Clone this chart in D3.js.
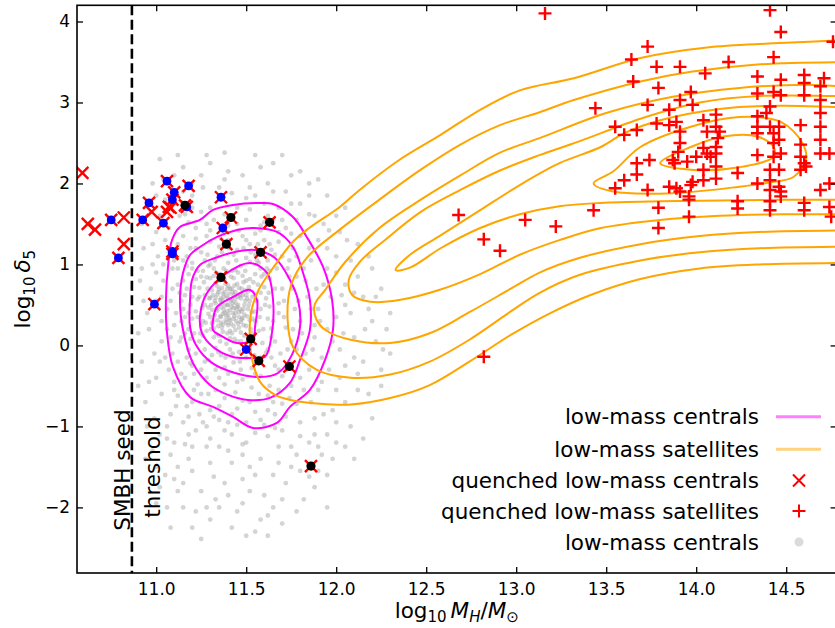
<!DOCTYPE html>
<html><head><meta charset="utf-8">
<script src="https://cdn.jsdelivr.net/npm/d3@7"></script>
<style>body{margin:0;background:#fff} svg{display:block} text{font-family:"DejaVu Sans",sans-serif;fill:#000}</style>
</head><body><svg id="c" width="835" height="628"></svg>
<script>
// ---------------- data ----------------
const xTicks = [11.0, 11.5, 12.0, 12.5, 13.0, 13.5, 14.0, 14.5];
const yTicks = [-2, -1, 0, 1, 2, 3, 4];
const seedThreshold = 10.865;

const greyCentrals = [
[11.30,0.35],[11.33,0.52],[11.36,0.28],[11.39,0.61],[11.41,0.44],[11.44,0.19],[11.46,0.71],[11.49,0.38],[11.52,0.55],[11.35,0.12],[11.31,0.68],[11.38,0.81],[11.43,0.33],[11.47,0.05],[11.50,0.24],[11.34,0.43],[11.37,0.17],[11.40,0.74],[11.42,0.57],[11.45,0.48],[11.48,0.62],[11.32,0.21],[11.29,0.47],[11.39,0.36],[11.44,0.66],[11.36,0.58],[11.41,0.09],[11.53,0.41],[11.47,0.29],[11.33,0.77],[11.38,0.49],[11.43,0.83],[11.30,0.59],[11.51,0.67],[11.40,0.25],[11.35,0.69],[11.46,0.41],[11.42,0.15],[11.37,0.39],[11.49,0.12],[11.31,0.27],[11.44,0.53],[11.39,0.02],[11.34,0.63],[11.48,0.86],[11.41,0.31],[11.36,0.47],[11.45,0.76],[11.52,0.31],[11.29,0.39],
[11.22,0.42],[11.24,0.71],[11.21,0.15],[11.26,0.92],[11.27,-0.05],[11.58,0.45],[11.60,0.72],[11.57,0.18],[11.62,0.33],[11.55,0.88],[11.32,0.95],[11.40,1.02],[11.47,0.98],[11.36,-0.12],[11.43,-0.21],[11.50,-0.15],[11.28,0.84],[11.25,0.25],[11.59,0.03],[11.61,0.58],[11.23,0.57],[11.54,0.78],[11.33,-0.03],[11.46,-0.08],[11.56,-0.22],[11.30,1.00],[11.52,1.03],[11.64,0.21],[11.20,0.33],[11.27,0.62],[11.63,0.83],[11.38,-0.27],[11.42,0.92],[11.24,0.05],[11.58,0.95],[11.35,0.88],[11.29,-0.18],[11.61,-0.09],[11.55,0.62],[11.22,0.82],
[11.14,0.30],[11.16,0.62],[11.13,0.05],[11.18,0.88],[11.19,-0.22],[11.68,0.40],[11.70,0.70],[11.66,0.05],[11.72,0.22],[11.67,0.95],[11.25,1.15],[11.35,1.22],[11.45,1.18],[11.55,1.12],[11.62,1.05],[11.28,-0.40],[11.38,-0.48],[11.48,-0.42],[11.58,-0.38],[11.66,-0.25],[11.17,1.10],[11.21,-0.35],[11.71,0.55],[11.15,0.45],[11.69,-0.10],[11.40,1.30],[11.52,1.25],[11.30,1.28],[11.33,-0.55],[11.44,-0.58],[11.53,-0.52],[11.64,1.18],[11.74,0.85],[11.12,0.75],[11.20,1.02],[11.23,-0.48],[11.73,-0.05],[11.60,1.30],[11.18,-0.05],[11.48,1.35],
[11.06,0.20],[11.08,0.55],[11.05,-0.15],[11.09,0.95],[11.10,-0.45],[11.80,0.30],[11.84,0.60],[11.78,-0.05],[11.88,0.10],[11.82,0.95],[11.15,1.35],[11.22,1.45],[11.32,1.55],[11.45,1.50],[11.58,1.48],[11.68,1.40],[11.76,1.20],[11.20,-0.70],[11.30,-0.80],[11.42,-0.85],[11.55,-0.82],[11.65,-0.70],[11.75,-0.50],[11.85,-0.30],[11.12,-0.62],[11.90,0.45],[11.07,1.15],[11.92,-0.15],[11.38,1.62],[11.62,1.60],[11.50,-0.95],[11.35,-0.92],[11.70,1.55],[11.80,1.35],[11.25,1.65],[11.93,0.75],[11.86,1.05],[11.08,-0.85],[11.15,-0.95],[11.72,-0.88],[11.60,-0.98],[11.78,-0.72],[11.04,0.80],[11.90,-0.55],[11.28,-1.00],
[10.95,0.40],[10.92,-0.20],[10.98,1.00],[10.94,-0.70],[11.00,1.40],[11.02,-1.10],[11.05,1.80],[11.10,2.10],[11.20,2.00],[11.28,2.35],[11.35,1.95],[11.48,2.10],[11.55,1.85],[11.62,2.00],[11.72,1.90],[11.80,1.75],[11.88,1.60],[11.95,1.20],[12.00,0.90],[12.05,0.50],[12.10,0.10],[12.02,-0.40],[11.98,-0.80],[12.15,-0.20],[12.20,0.30],[12.28,0.20],[12.12,0.85],[12.06,1.30],[11.95,-1.10],[11.85,-1.20],[11.78,-1.35],[11.68,-1.25],[11.58,-1.40],[11.50,-1.20],[11.40,-1.30],[11.30,-1.45],[11.20,-1.25],[11.12,-1.50],[11.25,-1.80],[11.38,-1.70],[11.48,-1.65],[11.60,-1.85],[11.72,-1.70],[11.82,-1.90],[11.45,-2.05],[11.30,-2.15],[11.55,-2.30],[11.70,-2.20],[11.15,-2.00],[11.05,-1.60],[11.00,-1.95],[11.08,-2.25],[11.25,-2.39],[11.62,-2.10],[11.90,-1.55],[12.08,-1.00],[12.18,-0.60],[11.03,0.05],[10.97,0.70],[10.93,1.20],[11.02,2.30],[11.38,2.38],[11.65,2.25],[11.90,2.05],[12.00,1.60],[12.25,0.70],[12.10,-1.40],[11.22,-1.05],[11.42,-1.10],[11.62,-1.12],[11.10,-1.20],[11.32,-1.62],[11.52,-1.50],[11.88,-0.90],[11.95,0.20],[12.02,-0.05],
[11.31,0.44],[11.34,0.31],[11.37,0.55],[11.40,0.38],[11.43,0.62],[11.46,0.22],[11.49,0.50],[11.32,0.10],[11.35,0.80],[11.38,0.66],[11.41,0.18],[11.44,0.40],[11.47,0.58],[11.50,0.80],[11.53,0.15],[11.36,0.35],[11.39,0.92],[11.42,0.70],[11.45,0.05],[11.48,0.34],[11.51,0.45],[11.33,0.59],[11.30,0.83],[11.27,0.50],[11.26,0.30],[11.55,0.30],[11.56,0.55],[11.40,0.50],[11.43,0.46],[11.37,0.26],[11.34,0.73],[11.47,0.16],[11.50,0.62],[11.28,0.18],[11.52,0.82],[11.44,0.93],[11.32,0.86],[11.58,0.65],[11.24,0.60],[11.41,-0.05],
[11.19,0.50],[11.21,0.72],[11.23,0.35],[11.18,0.20],[11.25,0.85],[11.27,1.05],[11.34,1.10],[11.43,1.12],[11.50,1.08],[11.57,1.02],[11.63,0.92],[11.66,0.70],[11.68,0.52],[11.65,0.30],[11.64,0.10],[11.62,-0.05],[11.58,-0.15],[11.53,-0.28],[11.47,-0.30],[11.40,-0.35],[11.33,-0.30],[11.27,-0.20],[11.22,-0.10],[11.19,0.08],[11.16,0.15],[11.14,0.55],[11.15,0.80],[11.17,0.98],[11.22,1.20],[11.28,1.35],[11.37,1.40],[11.46,1.42],[11.55,1.38],[11.63,1.25],[11.70,1.10],[11.73,0.95],[11.76,0.70],[11.77,0.45],[11.76,0.20],[11.74,-0.20],[11.70,-0.38],[11.63,-0.50],[11.57,-0.60],[11.48,-0.68],[11.38,-0.65],[11.29,-0.60],[11.21,-0.55],[11.16,-0.40],[11.12,-0.20],[11.11,0.40],
[11.08,0.10],[11.09,0.70],[11.10,1.05],[11.12,1.25],[11.18,1.52],[11.28,1.50],[11.42,1.60],[11.52,1.68],[11.60,1.52],[11.72,1.45],[11.78,1.10],[11.83,0.80],[11.86,0.45],[11.88,0.25],[11.83,-0.10],[11.80,-0.40],[11.74,-0.65],[11.66,-0.85],[11.58,-0.92],[11.45,-0.98],[11.32,-0.88],[11.24,-0.85],[11.17,-0.75],[11.10,-0.55],[11.07,-0.30],[11.03,0.30],[11.06,0.45],[11.00,0.90],[11.05,1.30],[11.13,1.60],[11.20,1.70],[11.35,1.80],[11.50,1.82],[11.68,1.70],[11.78,1.55],[11.90,1.30],[11.95,0.95],[11.97,0.60],[12.00,0.35],[11.98,0.05],[11.96,-0.30],[11.92,-0.45],[11.86,-0.70],[11.80,-0.95],[11.70,-1.05],[11.55,-1.08],[11.38,-1.05],[11.18,-1.10],[11.06,-1.00],[11.00,-0.40],
[10.90,0.15],[10.96,-0.45],[10.99,-0.90],[10.91,0.80],[10.97,1.65],[11.04,2.05],[11.15,2.20],[11.25,2.10],[11.40,2.15],[11.58,2.20],[11.75,2.10],[11.85,1.85],[12.02,1.40],[12.08,1.05],[12.15,0.60],[12.22,0.05],[12.30,-0.10],[12.12,-0.35],[12.05,-0.70],[12.00,-1.20],[11.92,-1.35],[11.85,-1.62],[11.75,-1.50],[11.65,-1.60],[11.52,-1.80],[11.42,-1.45],[11.35,-1.25],[11.18,-1.40],[11.08,-1.35],[11.02,-1.75],[11.12,-1.80],[11.22,-2.05],[11.35,-2.00],[11.50,-2.35],[11.62,-2.35],[11.78,-2.05],[11.88,-1.75],[11.95,-1.60],[12.20,-0.90],[12.25,-0.30],[10.98,-1.30],[11.28,-1.25],[11.48,-1.35],[11.68,-1.45],[11.88,-1.10],[12.10,-0.15],[12.18,0.45],[12.05,0.75],[11.93,1.50],[11.70,2.35],
[11.305,0.50],[11.325,0.38],[11.345,0.24],[11.355,0.56],[11.365,0.71],[11.375,0.44],[11.385,0.31],[11.395,0.50],[11.405,0.64],[11.415,0.27],[11.425,0.52],[11.435,0.74],[11.445,0.30],[11.455,0.60],[11.465,0.45],[11.475,0.70],[11.485,0.25],[11.495,0.55],[11.505,0.36],[11.515,0.72],[11.525,0.20],[11.535,0.60],[11.545,0.42],[11.315,0.62],[11.335,0.90],[11.355,0.05],[11.375,0.95],[11.395,0.15],[11.415,0.85],[11.435,0.08],[11.455,0.90],[11.475,0.42],[11.495,0.92],[11.515,0.05],[11.285,0.70],[11.275,0.28],[11.265,0.78],[11.255,0.46],[11.245,0.15],[11.565,0.75],[11.575,0.35],[11.585,0.85],[11.595,0.20],[11.605,0.50],[11.615,0.95],[11.625,0.65],[11.345,-0.08],[11.385,-0.15],[11.425,-0.10],[11.465,-0.20],[11.505,-0.05],[11.545,-0.12],[11.325,1.05],[11.365,1.15],[11.405,1.20],[11.445,1.05],[11.485,1.20],[11.525,1.15],[11.565,1.25],[11.285,1.12],
[11.14,0.10],[11.13,0.65],[11.16,0.35],[11.17,0.70],[11.19,1.20],[11.15,1.05],[11.20,-0.25],[11.17,-0.15],[11.14,-0.35],[11.25,-0.60],[11.35,-0.75],[11.45,-0.78],[11.52,-0.70],[11.62,-0.62],[11.68,-0.55],[11.72,-0.30],[11.75,0.05],[11.79,0.55],[11.81,0.15],[11.78,0.85],[11.74,1.05],[11.68,1.28],[11.58,1.42],[11.50,1.55],[11.40,1.48],[11.30,1.42],[11.22,1.32],[11.12,0.95],[11.10,0.25],[11.09,-0.10],[11.11,-0.75],[11.18,-0.88],[11.26,-0.95],[11.40,-0.95],[11.62,-0.80],[11.70,-0.72],[11.82,-0.55],[11.87,-0.05],[11.91,0.30],[11.89,0.70],[11.85,1.20],[11.75,1.38],[11.65,1.55],[11.45,1.70],[11.30,1.70],[11.16,1.62],[11.07,1.45],[11.04,1.00],[11.03,0.60],[11.02,-0.20],[11.03,-0.60],[11.06,-1.15],[11.16,-1.22],[11.30,-1.15],[11.48,-1.22],[11.66,-1.02],[11.80,-1.12],[11.93,-0.85],[12.00,-0.55],[12.04,0.15],[12.03,0.62],[12.00,1.10],[11.96,1.42],[11.85,1.62],[11.60,1.75],[11.42,1.88],[11.20,1.85],[11.10,1.75],[10.98,1.25],[10.96,0.20],[10.99,-0.10],[11.00,0.55],[11.01,1.10],[10.93,0.55],[11.26,1.95],[11.52,1.95],[11.75,1.75],[12.08,0.40],[12.12,-0.55],[12.05,-0.25],
[10.92,1.50],[10.95,-1.00],[10.90,-0.50],[11.00,-1.50],[11.10,-1.65],[11.20,-1.55],[11.40,-1.85],[11.55,-1.60],[11.70,-1.90],[11.80,-1.55],[11.98,-1.40],[12.15,-1.15],[12.25,-0.50],[12.30,0.40],[12.20,0.95],[12.12,1.25],[12.05,1.70],[11.95,1.85],[11.80,2.15],[11.55,2.35],[11.30,2.25],[11.12,2.35],[10.98,2.00],[10.94,-1.40],[11.06,-2.00],[11.20,-2.25],[11.42,-2.25],[11.65,-2.00],[11.48,-1.95],[11.33,-1.90],[11.75,-1.25],[11.90,-1.25],[12.05,-1.25],[12.22,0.60],[12.26,-0.05],[12.18,1.10],[11.02,1.60],[11.15,1.90],[11.65,1.90],[11.85,2.00],[12.10,0.65],[12.16,0.20],[11.95,-2.00],[11.58,-2.15],[11.28,-2.00],[11.15,-1.70],[10.92,0.95],[11.38,2.05],[11.00,1.85],[12.00,-0.95],
[11.315,0.30],[11.335,0.45],[11.355,0.36],[11.375,0.60],[11.395,0.42],[11.415,0.55],[11.435,0.36],[11.455,0.50],[11.475,0.32],[11.495,0.68],[11.325,0.55],[11.345,0.66],[11.365,0.22],[11.385,0.76],[11.405,0.33],[11.425,0.66],[11.445,0.45],[11.465,0.62],[11.485,0.45],[11.505,0.58],[11.295,0.58],[11.305,0.20],[11.335,0.14],[11.365,0.84],[11.395,0.70],[11.425,0.40],[11.455,0.27],[11.485,0.78],[11.515,0.50],[11.535,0.33],[11.36,0.52],[11.38,0.40],[11.40,0.58],[11.42,0.48],[11.44,0.58],[11.39,0.28],[11.41,0.70],[11.43,0.24],[11.37,0.64],[11.46,0.35],
[11.20,0.60],[11.23,0.92],[11.26,0.12],[11.29,0.98],[11.31,-0.12],[11.56,1.05],[11.60,0.88],[11.63,0.48],[11.64,-0.15],[11.55,-0.35],[11.45,-0.45],[11.35,-0.40],[11.25,-0.30],[11.18,0.40],[11.20,0.95],[11.36,1.32],[11.50,1.30],[11.66,1.12],[11.71,0.35],[11.68,-0.30]
];

const centralContours = [
 [[11.054,0.562],[11.066,0.981],[11.088,1.302],[11.132,1.463],[11.243,1.549],[11.316,1.673],[11.427,1.735],[11.577,1.759],[11.649,1.747],[11.76,1.586],[11.838,1.333],[11.927,0.969],[11.977,0.562],[11.982,0.191],[11.938,-0.179],[11.854,-0.549],[11.743,-0.759],[11.671,-0.957],[11.538,-1.019],[11.427,-0.883],[11.316,-0.759],[11.188,-0.636],[11.093,-0.265],[11.06,0.154]],
 [[11.132,0.562],[11.149,0.895],[11.188,1.117],[11.243,1.216],[11.338,1.34],[11.449,1.426],[11.538,1.451],[11.671,1.401],[11.76,1.216],[11.816,0.895],[11.854,0.562],[11.854,0.191],[11.799,-0.179],[11.743,-0.463],[11.632,-0.648],[11.51,-0.673],[11.399,-0.611],[11.299,-0.488],[11.204,-0.216],[11.149,0.191]],
 [[11.188,0.562],[11.199,0.809],[11.243,0.994],[11.327,1.080],[11.438,1.154],[11.549,1.179],[11.66,1.080],[11.743,0.809],[11.788,0.562],[11.799,0.228],[11.754,-0.117],[11.677,-0.340],[11.577,-0.389],[11.438,-0.340],[11.31,-0.216],[11.221,0.006],[11.188,0.228]],
 [[11.243,0.352],[11.282,0.648],[11.393,0.895],[11.521,1.019],[11.616,0.895],[11.649,0.562],[11.643,0.154],[11.604,-0.142],[11.521,-0.154],[11.427,-0.142],[11.316,-0.019],[11.254,0.154]],
 [[11.316,0.315],[11.338,0.475],[11.427,0.599],[11.521,0.685],[11.56,0.562],[11.549,0.228],[11.538,0.068],[11.449,0.031],[11.371,0.105],[11.316,0.191]]
];

const satelliteContours = [
 [[15.2,3.80],[14.83,3.77],[14.43,3.73],[14.06,3.68],[13.69,3.55],[13.32,3.30],[13.02,3.15],[12.80,2.91],[12.58,2.60],[12.35,2.29],[12.13,1.92],[12.02,1.71],[11.85,1.45],[11.76,1.28],[11.65,0.96],[11.57,0.69],[11.53,0.44],[11.52,0.07],[11.54,-0.24],[11.58,-0.46],[11.66,-0.61],[11.74,-0.67],[11.91,-0.72],[12.08,-0.73],[12.30,-0.65],[12.52,-0.49],[12.74,-0.20],[12.97,0.13],[13.19,0.40],[13.41,0.62],[13.69,0.82],[14.02,0.95],[14.35,1.00],[14.83,1.02],[15.2,1.02]],
 [[15.2,3.50],[14.83,3.50],[14.34,3.47],[13.97,3.38],[13.69,3.26],[13.32,3.03],[13.13,2.88],[12.91,2.72],[12.69,2.48],[12.47,2.17],[12.24,1.80],[12.02,1.43],[11.84,1.09],[11.75,0.75],[11.73,0.32],[11.76,-0.02],[11.89,-0.30],[12.08,-0.40],[12.30,-0.36],[12.52,-0.20],[12.74,0.07],[12.97,0.42],[13.13,0.65],[13.35,0.87],[13.69,1.05],[14.02,1.15],[14.35,1.20],[14.83,1.22],[15.2,1.22]],
 [[15.2,3.22],[14.83,3.20],[14.61,3.22],[14.24,3.18],[13.87,3.07],[13.50,2.87],[13.13,2.56],[12.91,2.38],[12.69,2.10],[12.47,1.80],[12.24,1.45],[12.05,1.03],[11.94,0.69],[11.88,0.50],[11.89,0.32],[11.94,0.19],[12.08,0.07],[12.30,0.03],[12.52,0.15],[12.74,0.41],[12.97,0.70],[13.13,0.90],[13.35,1.08],[13.69,1.25],[14.02,1.35],[14.35,1.40],[14.83,1.42],[15.2,1.42]],
 [[15.2,3.08],[14.83,3.08],[14.35,3.08],[14.02,3.00],[13.69,2.80],[13.35,2.52],[13.13,2.35],[12.91,2.16],[12.69,1.92],[12.47,1.65],[12.27,1.30],[12.13,1.03],[12.07,0.81],[12.09,0.62],[12.19,0.54],[12.35,0.56],[12.58,0.69],[12.80,0.88],[13.02,1.12],[13.24,1.30],[13.47,1.45],[13.80,1.55],[14.13,1.60],[14.47,1.62],[14.83,1.62],[15.2,1.62]],
 [[15.2,2.94],[14.83,2.94],[14.47,2.96],[14.13,2.92],[13.80,2.78],[13.60,2.62],[13.47,2.45],[13.24,2.25],[13.02,1.98],[12.80,1.67],[12.58,1.36],[12.41,1.12],[12.33,0.93],[12.41,0.96],[12.58,1.20],[12.80,1.45],[13.02,1.62],[13.24,1.72],[13.47,1.76],[13.80,1.78],[14.13,1.79],[14.47,1.80],[14.83,1.80],[15.2,1.80]],
 [[13.43,2.00],[13.54,2.15],[13.69,2.45],[13.97,2.70],[14.24,2.82],[14.47,2.76],[14.59,2.50],[14.61,2.29],[14.54,2.08],[14.43,2.02],[14.24,1.96],[13.87,1.88],[13.54,1.90]],
 [[13.80,2.25],[13.97,2.45],[14.15,2.58],[14.34,2.58],[14.43,2.45],[14.43,2.33],[14.24,2.20],[13.97,2.17]]
];

// quenched low-mass centrals; group: "a" = blue dot, "b" = black dot
const quenchedCentrals = [
[10.59,2.13,""],[10.62,1.50,""],[10.66,1.43,""],[10.75,1.55,"a"],[10.82,1.58,""],[10.82,1.25,""],[10.79,1.08,"a"],[10.925,1.55,"a"],[10.96,1.76,"a"],[10.975,1.65,""],[11.04,1.51,"a"],[11.06,2.03,"a"],[11.07,1.71,""],[11.06,1.65,""],[11.10,1.89,"a"],[11.09,1.80,"a"],[11.08,1.70,""],[11.09,1.16,"a"],[11.09,1.13,"a"],[11.18,1.97,"a"],[11.17,1.71,"a"],[11.16,1.73,"b"],[11.36,1.83,"a"],[11.415,1.58,"b"],[11.37,1.45,"a"],[11.63,1.52,"b"],[11.39,1.25,"b"],[11.58,1.15,"b"],[11.36,0.84,"b"],[10.99,0.51,"a"],[11.50,-0.05,"a"],[11.525,0.08,"b"],[11.57,-0.19,"b"],[11.74,-0.26,"b"],[11.86,-1.49,"b"]
];

const quenchedSatellites = [
[13.16,4.10],[14.41,4.14],[14.47,3.87],[13.73,3.69],[13.64,3.53],[13.78,3.44],[13.91,3.44],[14.18,3.50],[14.43,3.56],[14.05,3.36],[13.65,3.26],[14.34,3.32],[14.47,3.28],[14.60,3.34],[14.71,3.30],[13.79,3.18],[13.97,3.13],[14.34,3.11],[14.43,3.13],[14.47,3.09],[14.60,3.09],[14.60,3.24],[14.69,3.20],[14.69,3.03],[13.44,2.93],[13.73,2.97],[13.91,3.03],[13.98,2.97],[13.85,2.91],[14.11,2.85],[14.41,2.95],[14.39,2.87],[14.69,2.87],[13.55,2.70],[13.67,2.66],[13.60,2.60],[13.78,2.74],[13.85,2.72],[13.89,2.76],[13.91,2.64],[14.04,2.78],[14.06,2.64],[14.11,2.70],[14.13,2.64],[14.12,2.56],[14.34,2.83],[14.34,2.70],[14.34,2.62],[14.41,2.70],[14.43,2.62],[14.46,2.70],[14.46,2.54],[14.58,2.72],[14.69,2.70],[14.69,2.54],[14.69,2.37],[13.91,2.50],[13.90,2.39],[14.04,2.44],[14.06,2.37],[14.08,2.33],[14.11,2.37],[14.11,2.45],[14.00,2.33],[13.95,2.27],[13.88,2.25],[13.87,2.29],[14.34,2.35],[14.43,2.50],[14.47,2.37],[14.43,2.33],[14.58,2.48],[14.58,2.33],[14.60,2.25],[14.61,2.21],[14.74,2.37],[13.67,2.25],[13.74,2.29],[13.67,2.11],[13.60,2.04],[13.55,1.94],[13.73,1.92],[13.85,1.96],[13.89,1.94],[13.91,1.90],[13.97,1.98],[13.98,2.02],[13.96,1.84],[14.04,2.17],[14.04,2.04],[14.11,2.21],[14.11,2.06],[14.23,2.13],[14.34,2.00],[14.41,2.17],[14.41,2.04],[14.41,1.92],[14.46,2.17],[14.46,1.96],[14.47,1.84],[14.58,2.17],[14.69,1.92],[14.74,2.00],[14.23,1.78],[14.23,1.69],[14.41,1.78],[14.41,1.67],[14.47,1.90],[14.60,1.76],[14.60,1.67],[14.74,1.71],[14.75,1.59],[13.79,1.70],[13.96,1.80],[13.96,1.59],[13.43,1.67],[13.22,1.47],[13.79,1.45],[13.05,1.55],[12.68,1.61],[12.82,1.31],[12.91,1.17],[12.82,-0.14],[14.76,3.75]
];

const legendLabels = ["low-mass centrals","low-mass satellites","quenched low-mass centrals","quenched low-mass satellites","low-mass centrals"];

// ---------------- drawing ----------------
const svg = d3.select("#c");
const L = 77, R = 836.6, T = 5.3, B = 573;
const x = d3.scaleLinear().domain([10.56, 14.78]).range([L, R]);
const y = d3.scaleLinear().domain([-2.81, 4.2]).range([B, T]);

svg.append("defs").append("clipPath").attr("id","clip")
  .append("rect").attr("x",L).attr("y",T).attr("width",R-L).attr("height",B-T);
const g = svg.append("g").attr("clip-path","url(#clip)");

g.selectAll("circle.grey").data(greyCentrals).join("circle").attr("class","grey")
  .attr("cx",d=>x(d[0])).attr("cy",d=>y(d[1])).attr("r",2.4)
  .attr("fill","#999").attr("fill-opacity",0.42);

const closed = d3.line().x(d=>x(d[0])).y(d=>y(d[1])).curve(d3.curveCatmullRomClosed.alpha(0.5));
g.selectAll("path.cen").data(centralContours).join("path").attr("class","cen")
  .attr("d",closed).attr("fill","none").attr("stroke","#ff00ff").attr("stroke-width",2);
g.selectAll("path.sat").data(satelliteContours).join("path").attr("class","sat")
  .attr("d",closed).attr("fill","none").attr("stroke","#ffa500").attr("stroke-width",2);

// seed threshold line
g.append("line").attr("x1",x(seedThreshold)).attr("x2",x(seedThreshold)).attr("y1",T).attr("y2",B)
  .attr("stroke","#000").attr("stroke-width",2.6).attr("stroke-dasharray","10,4.5");

function cross(sel, s){ return sel.append("path").attr("d",`M${-s},${-s}L${s},${s}M${-s},${s}L${s},${-s}`); }
function plus(sel, s){ return sel.append("path").attr("d",`M${-s},0L${s},0M0,${-s}L0,${s}`); }

g.selectAll("g.qc").data(quenchedCentrals).join("g").attr("class","qc")
  .attr("transform",d=>`translate(${x(d[0])},${y(d[1])})`)
  .each(function(){ cross(d3.select(this),6).attr("stroke","#ff0000").attr("stroke-width",2.4).attr("fill","none"); });

g.selectAll("g.qs").data(quenchedSatellites).join("g").attr("class","qs")
  .attr("transform",d=>`translate(${x(d[0])},${y(d[1])})`)
  .each(function(){ plus(d3.select(this),6.5).attr("stroke","#ff0000").attr("stroke-width",2.4).attr("fill","none"); });

g.selectAll("circle.ga").data(quenchedCentrals.filter(d=>d[2]==="a")).join("circle").attr("class","ga")
  .attr("cx",d=>x(d[0])).attr("cy",d=>y(d[1])).attr("r",4.4).attr("fill","#0000ff");
g.selectAll("circle.gb").data(quenchedCentrals.filter(d=>d[2]==="b")).join("circle").attr("class","gb")
  .attr("cx",d=>x(d[0])).attr("cy",d=>y(d[1])).attr("r",4.6).attr("fill","#000");

// axes
const fTick = 17;
const ax = svg.append("g").attr("transform",`translate(0,${B})`)
  .call(d3.axisBottom(x).tickValues(xTicks).tickFormat(d3.format(".1f")).tickSizeInner(-6).tickSizeOuter(0).tickPadding(10));
const ay = svg.append("g").attr("transform",`translate(${L},0)`)
  .call(d3.axisLeft(y).tickValues(yTicks).tickFormat(d3.format("d")).tickSizeInner(-6).tickSizeOuter(0).tickPadding(7));
const at = svg.append("g").attr("transform",`translate(0,${T})`)
  .call(d3.axisTop(x).tickValues(xTicks).tickFormat("").tickSizeInner(-6).tickSizeOuter(0));
const ar = svg.append("g").attr("transform",`translate(${R},0)`)
  .call(d3.axisRight(y).tickValues(yTicks).tickFormat("").tickSizeInner(-6).tickSizeOuter(0));
[ax,ay,at,ar].forEach(a=>{
  a.select(".domain").remove();
  a.selectAll(".tick line").attr("stroke","#000").attr("stroke-width",1.3);
  a.selectAll(".tick text").attr("font-size",fTick).attr("font-family","DejaVu Sans").attr("fill","#000");
});
svg.append("rect").attr("x",L).attr("y",T).attr("width",R-L).attr("height",B-T)
  .attr("fill","none").attr("stroke","#000").attr("stroke-width",1.6);

// axis labels
const fLab = 21.5;
const xl = svg.append("text").attr("x",(L+R)/2).attr("y",618).attr("text-anchor","middle").attr("font-size",fLab);
xl.append("tspan").text("log");
xl.append("tspan").attr("font-size",fLab*0.7).attr("dy",4).text("10");
xl.append("tspan").attr("dy",-4).attr("dx",4).attr("font-style","italic").text("M");
xl.append("tspan").attr("font-size",fLab*0.7).attr("font-style","italic").attr("dy",4).text("H");
xl.append("tspan").attr("dy",-4).text("/");
xl.append("tspan").attr("font-style","italic").text("M");
xl.append("tspan").attr("font-size",fLab*0.7).attr("dy",4).text("⊙");

const yl = svg.append("text").attr("transform",`translate(30,${(T+B)/2}) rotate(-90)`).attr("text-anchor","middle").attr("font-size",fLab);
yl.append("tspan").text("log");
yl.append("tspan").attr("font-size",fLab*0.7).attr("dy",5).text("10");
yl.append("tspan").attr("dy",-5).attr("dx",4).attr("font-style","italic").text("δ");
yl.append("tspan").attr("font-size",fLab*0.7).attr("dy",5).text("5");

// threshold annotation
svg.append("text").attr("transform",`translate(129.5,470) rotate(-90)`).attr("text-anchor","middle").attr("font-size",fLab).text("SMBH seed");
svg.append("text").attr("transform",`translate(159.5,467) rotate(-90)`).attr("text-anchor","middle").attr("font-size",fLab).text("threshold");

// legend
const rows = [416.7, 449.3, 480.5, 511, 542];
const lg = svg.append("g");
legendLabels.forEach((t,i)=>{
  lg.append("text").attr("x",759).attr("y",rows[i]).attr("dy","0.35em").attr("text-anchor","end").attr("font-size",fLab).text(t);
});
lg.append("line").attr("x1",776).attr("x2",821).attr("y1",rows[0]).attr("y2",rows[0]).attr("stroke","#ff00ff").attr("stroke-opacity",0.5).attr("stroke-width",3);
lg.append("line").attr("x1",776).attr("x2",821).attr("y1",rows[1]).attr("y2",rows[1]).attr("stroke","#ffa500").attr("stroke-opacity",0.5).attr("stroke-width",3);
cross(lg.append("g").attr("transform",`translate(799,${rows[2]})`),6).attr("stroke","#ff0000").attr("stroke-width",2).attr("fill","none");
plus(lg.append("g").attr("transform",`translate(799,${rows[3]})`),6.5).attr("stroke","#ff0000").attr("stroke-width",2).attr("fill","none");
lg.append("circle").attr("cx",799).attr("cy",rows[4]).attr("r",4.5).attr("fill","#999").attr("fill-opacity",0.35);
</script></body></html>
